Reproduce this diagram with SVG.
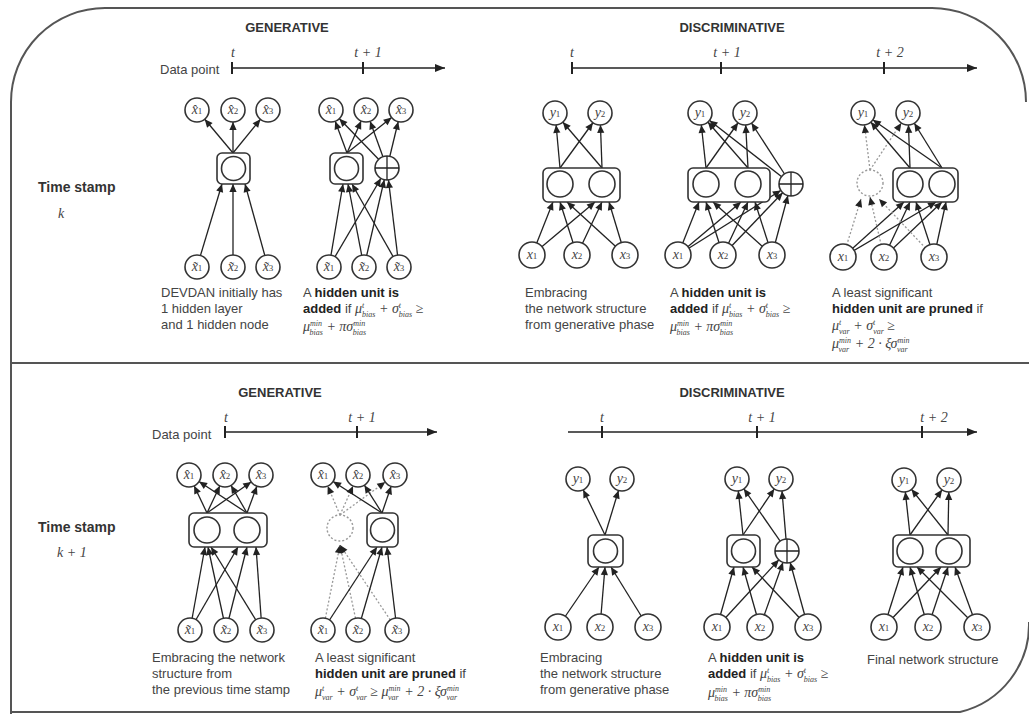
<svg xmlns="http://www.w3.org/2000/svg" width="1029" height="714" viewBox="0 0 1029 714">
<style>
.frame{fill:none;stroke:#555;stroke-width:2}
.e{stroke:#222;stroke-width:1.3;fill:none}
.d{stroke:#999;stroke-width:1.3;fill:none;stroke-dasharray:2 2}
.n{fill:#fff;stroke:#333;stroke-width:1.6}
.pn{fill:#fff;stroke:#999;stroke-width:1.4;stroke-dasharray:2 2}
.bx{fill:#fff;stroke:#333;stroke-width:1.6}
.tl{stroke:#222;stroke-width:1.5;fill:none}
.tk{stroke:#222;stroke-width:2}
.h{font-family:"Liberation Sans",Arial,sans-serif;font-weight:bold;font-size:13px;fill:#333}
.t{font-family:"Liberation Sans",Arial,sans-serif;font-size:13px;fill:#444}
.b{font-weight:bold;fill:#222}
.m{font-family:"Liberation Serif","Times New Roman",serif;font-style:italic;font-size:14px;fill:#444}
.s{font-family:"Liberation Serif","Times New Roman",serif;font-style:italic;font-size:8px}
.nl{font-family:"Liberation Serif","Times New Roman",serif;font-style:italic;font-size:14px;fill:#444;text-anchor:middle}
.nls{font-size:9px;font-style:normal}
</style>
<defs>
<marker id="a0" viewBox="0 0 10 10" refX="10" refY="5" markerWidth="8" markerHeight="8" markerUnits="userSpaceOnUse" orient="auto" overflow="visible"><path d="M0,0.5 L10,5 L0,9.5 z" fill="#222"/></marker>
<marker id="a12" viewBox="0 0 10 10" refX="25" refY="5" markerWidth="8" markerHeight="8" markerUnits="userSpaceOnUse" orient="auto" overflow="visible"><path d="M0,0.5 L10,5 L0,9.5 z" fill="#222"/></marker>
<marker id="at" viewBox="0 0 10 10" refX="10" refY="5" markerWidth="10" markerHeight="10" markerUnits="userSpaceOnUse" orient="auto"><path d="M0,1 L10,5 L0,9 z" fill="#222"/></marker>
</defs>

<g id="frame">
<path class="frame" d="M11,714 L11,102 A94,94 0 0 1 105,8 L932,8 A94,94 0 0 1 1026,102"/>
<path class="frame" d="M11,363 L1029,363"/>
<path class="frame" d="M1029,622 A90,90 0 0 1 960,712 L11,712"/>
</g>

<g id="labels">
<text class="h" x="38" y="192" style="font-size:14px">Time stamp</text>
<text class="m" x="58" y="218">k</text>
<text class="h" x="38" y="532" style="font-size:14px">Time stamp</text>
<text class="m" x="57" y="557">k + 1</text>
<text class="h" x="287" y="32" text-anchor="middle">GENERATIVE</text>
<text class="h" x="732" y="32" text-anchor="middle">DISCRIMINATIVE</text>
<text class="h" x="280" y="397" text-anchor="middle">GENERATIVE</text>
<text class="h" x="732" y="397" text-anchor="middle">DISCRIMINATIVE</text>
<text class="t" x="160" y="74">Data point</text>
<text class="t" x="152" y="439">Data point</text>
</g>

<g id="timelines">
<path class="tl" d="M232,68 L445,68" marker-end="url(#at)"/>
<path class="tk" d="M232,62 V74 M363,62 V74"/>
<text class="nl" x="233" y="57">t</text>
<text class="nl" x="368" y="57">t + 1</text>
<path class="tl" d="M572,68 L977,68" marker-end="url(#at)"/>
<path class="tk" d="M572,62 V74 M721,62 V74 M884,62 V74"/>
<text class="nl" x="572" y="57">t</text>
<text class="nl" x="727" y="57">t + 1</text>
<text class="nl" x="890" y="57">t + 2</text>
<path class="tl" d="M225,432 L437,432" marker-end="url(#at)"/>
<path class="tk" d="M225,426 V438 M357,426 V438"/>
<text class="nl" x="226" y="422">t</text>
<text class="nl" x="362" y="422">t + 1</text>
<path class="tl" d="M568,432 L977,432" marker-end="url(#at)"/>
<path class="tk" d="M602,426 V438 M757,426 V438 M922,426 V438"/>
<text class="nl" x="602" y="422">t</text>
<text class="nl" x="762" y="422">t + 1</text>
<text class="nl" x="934" y="422">t + 2</text>
</g>

<g id="connectors">
<path class="e" d="M233,153 L197,110" marker-end="url(#a12)"/>
<path class="e" d="M233,153 L233,110" marker-end="url(#a12)"/>
<path class="e" d="M233,153 L268,110" marker-end="url(#a12)"/>
<path class="e" d="M197,267 L222,184" marker-end="url(#a0)"/>
<path class="e" d="M233,267 L233,184" marker-end="url(#a0)"/>
<path class="e" d="M268,267 L245,184" marker-end="url(#a0)"/>
<path class="e" d="M347,153 L331,110" marker-end="url(#a12)"/>
<path class="e" d="M347,153 L366,110" marker-end="url(#a12)"/>
<path class="e" d="M347,153 L401,110" marker-end="url(#a12)"/>
<path class="e" d="M387,168 L331,110" marker-end="url(#a12)"/>
<path class="e" d="M387,168 L366,110" marker-end="url(#a12)"/>
<path class="e" d="M387,168 L401,110" marker-end="url(#a12)"/>
<path class="e" d="M329,267 L343,184" marker-end="url(#a0)"/>
<path class="e" d="M364,267 L348,184" marker-end="url(#a0)"/>
<path class="e" d="M399,267 L352,184" marker-end="url(#a0)"/>
<path class="e" d="M329,267 L387,168" marker-end="url(#a12)"/>
<path class="e" d="M364,267 L387,168" marker-end="url(#a12)"/>
<path class="e" d="M399,267 L387,168" marker-end="url(#a12)"/>
<path class="e" d="M560,168 L555,113" marker-end="url(#a12)"/>
<path class="e" d="M560,168 L600,113" marker-end="url(#a12)"/>
<path class="e" d="M602,168 L555,113" marker-end="url(#a12)"/>
<path class="e" d="M602,168 L600,113" marker-end="url(#a12)"/>
<path class="e" d="M532,255 L553,202" marker-end="url(#a0)"/>
<path class="e" d="M577,255 L560,202" marker-end="url(#a0)"/>
<path class="e" d="M625,255 L567,202" marker-end="url(#a0)"/>
<path class="e" d="M532,255 L595,202" marker-end="url(#a0)"/>
<path class="e" d="M577,255 L602,202" marker-end="url(#a0)"/>
<path class="e" d="M625,255 L609,202" marker-end="url(#a0)"/>
<path class="e" d="M706,168 L700,113" marker-end="url(#a12)"/>
<path class="e" d="M706,168 L745,113" marker-end="url(#a12)"/>
<path class="e" d="M748,168 L700,113" marker-end="url(#a12)"/>
<path class="e" d="M748,168 L745,113" marker-end="url(#a12)"/>
<path class="e" d="M791,184 L700,113" marker-end="url(#a12)"/>
<path class="e" d="M791,184 L745,113" marker-end="url(#a12)"/>
<path class="e" d="M678,255 L699,202" marker-end="url(#a0)"/>
<path class="e" d="M723,255 L706,202" marker-end="url(#a0)"/>
<path class="e" d="M772,255 L713,202" marker-end="url(#a0)"/>
<path class="e" d="M678,255 L741,202" marker-end="url(#a0)"/>
<path class="e" d="M723,255 L748,202" marker-end="url(#a0)"/>
<path class="e" d="M772,255 L755,202" marker-end="url(#a0)"/>
<path class="e" d="M678,255 L791,184" marker-end="url(#a12)"/>
<path class="e" d="M723,255 L791,184" marker-end="url(#a12)"/>
<path class="e" d="M772,255 L791,184" marker-end="url(#a12)"/>
<path class="d" d="M870,170 L863,113" marker-end="url(#a12)"/>
<path class="d" d="M870,170 L908,113" marker-end="url(#a12)"/>
<path class="e" d="M910,168 L863,113" marker-end="url(#a12)"/>
<path class="e" d="M910,168 L908,113" marker-end="url(#a12)"/>
<path class="e" d="M942,168 L863,113" marker-end="url(#a12)"/>
<path class="e" d="M942,168 L908,113" marker-end="url(#a12)"/>
<path class="e" d="M843,257 L904,202" marker-end="url(#a0)"/>
<path class="e" d="M884,257 L910,202" marker-end="url(#a0)"/>
<path class="e" d="M934,257 L916,202" marker-end="url(#a0)"/>
<path class="e" d="M843,257 L936,202" marker-end="url(#a0)"/>
<path class="e" d="M884,257 L942,202" marker-end="url(#a0)"/>
<path class="e" d="M934,257 L946,202" marker-end="url(#a0)"/>
<path class="d" d="M843,257 L861,199" marker-end="url(#a0)"/>
<path class="d" d="M884,257 L870,197" marker-end="url(#a0)"/>
<path class="d" d="M934,257 L879,199" marker-end="url(#a0)"/>
<path class="e" d="M207,513 L189,475" marker-end="url(#a12)"/>
<path class="e" d="M207,513 L225,475" marker-end="url(#a12)"/>
<path class="e" d="M207,513 L261,475" marker-end="url(#a12)"/>
<path class="e" d="M247,513 L189,475" marker-end="url(#a12)"/>
<path class="e" d="M247,513 L225,475" marker-end="url(#a12)"/>
<path class="e" d="M247,513 L261,475" marker-end="url(#a12)"/>
<path class="e" d="M190,630 L205,547" marker-end="url(#a0)"/>
<path class="e" d="M226,630 L208,547" marker-end="url(#a0)"/>
<path class="e" d="M262,630 L211,547" marker-end="url(#a0)"/>
<path class="e" d="M190,630 L238,547" marker-end="url(#a0)"/>
<path class="e" d="M226,630 L247,547" marker-end="url(#a0)"/>
<path class="e" d="M262,630 L256,547" marker-end="url(#a0)"/>
<path class="d" d="M340,515 L323,475" marker-end="url(#a12)"/>
<path class="d" d="M340,515 L358,475" marker-end="url(#a12)"/>
<path class="d" d="M340,515 L395,475" marker-end="url(#a12)"/>
<path class="e" d="M382,513 L323,475" marker-end="url(#a12)"/>
<path class="e" d="M382,513 L358,475" marker-end="url(#a12)"/>
<path class="e" d="M382,513 L395,475" marker-end="url(#a12)"/>
<path class="d" d="M323,630 L340,545" marker-end="url(#a0)"/>
<path class="d" d="M358,630 L340,545" marker-end="url(#a0)"/>
<path class="d" d="M397,630 L340,545" marker-end="url(#a0)"/>
<path class="e" d="M323,630 L377,547" marker-end="url(#a0)"/>
<path class="e" d="M358,630 L382,547" marker-end="url(#a0)"/>
<path class="e" d="M397,630 L387,547" marker-end="url(#a0)"/>
<path class="e" d="M605,535 L578,479" marker-end="url(#a12)"/>
<path class="e" d="M605,535 L622,479" marker-end="url(#a12)"/>
<path class="e" d="M558,627 L599,567" marker-end="url(#a0)"/>
<path class="e" d="M600,627 L605,567" marker-end="url(#a0)"/>
<path class="e" d="M648,627 L611,567" marker-end="url(#a0)"/>
<path class="e" d="M743,535 L737,479" marker-end="url(#a12)"/>
<path class="e" d="M743,535 L781,479" marker-end="url(#a12)"/>
<path class="e" d="M787,551 L737,479" marker-end="url(#a12)"/>
<path class="e" d="M787,551 L781,479" marker-end="url(#a12)"/>
<path class="e" d="M717,627 L734,567" marker-end="url(#a0)"/>
<path class="e" d="M760,627 L743,567" marker-end="url(#a0)"/>
<path class="e" d="M808,627 L752,567" marker-end="url(#a0)"/>
<path class="e" d="M717,627 L787,551" marker-end="url(#a12)"/>
<path class="e" d="M760,627 L787,551" marker-end="url(#a12)"/>
<path class="e" d="M808,627 L787,551" marker-end="url(#a12)"/>
<path class="e" d="M910,535 L904,480" marker-end="url(#a12)"/>
<path class="e" d="M910,535 L949,480" marker-end="url(#a12)"/>
<path class="e" d="M948,535 L904,480" marker-end="url(#a12)"/>
<path class="e" d="M948,535 L949,480" marker-end="url(#a12)"/>
<path class="e" d="M884,627 L903,567" marker-end="url(#a0)"/>
<path class="e" d="M928,627 L910,567" marker-end="url(#a0)"/>
<path class="e" d="M977,627 L917,567" marker-end="url(#a0)"/>
<path class="e" d="M884,627 L941,567" marker-end="url(#a0)"/>
<path class="e" d="M928,627 L948,567" marker-end="url(#a0)"/>
<path class="e" d="M977,627 L955,567" marker-end="url(#a0)"/>
</g>

<g id="tg1">
<circle class="n" cx="197" cy="110" r="12"/><text class="nl" x="197" y="114">x̂<tspan class="nls">1</tspan></text>
<circle class="n" cx="233" cy="110" r="12"/><text class="nl" x="233" y="114">x̂<tspan class="nls">2</tspan></text>
<circle class="n" cx="268" cy="110" r="12"/><text class="nl" x="268" y="114">x̂<tspan class="nls">3</tspan></text>
<rect class="bx" x="217" y="153" width="33" height="31" rx="5"/>
<circle class="n" cx="233.5" cy="168.5" r="12"/>
<circle class="n" cx="197" cy="267" r="12"/><text class="nl" x="197" y="271">x̃<tspan class="nls">1</tspan></text>
<circle class="n" cx="233" cy="267" r="12"/><text class="nl" x="233" y="271">x̃<tspan class="nls">2</tspan></text>
<circle class="n" cx="268" cy="267" r="12"/><text class="nl" x="268" y="271">x̃<tspan class="nls">3</tspan></text>
<text class="t" x="161" y="297">DEVDAN initially has</text>
<text class="t" x="161" y="313">1 hidden layer</text>
<text class="t" x="161" y="329">and 1 hidden node</text>
</g>

<g id="tg2">
<circle class="n" cx="331" cy="110" r="12"/><text class="nl" x="331" y="114">x̂<tspan class="nls">1</tspan></text>
<circle class="n" cx="366" cy="110" r="12"/><text class="nl" x="366" y="114">x̂<tspan class="nls">2</tspan></text>
<circle class="n" cx="401" cy="110" r="12"/><text class="nl" x="401" y="114">x̂<tspan class="nls">3</tspan></text>
<rect class="bx" x="330" y="153" width="33" height="31" rx="5"/>
<circle class="n" cx="346.5" cy="168.5" r="12"/>
<circle class="n" cx="387" cy="168" r="12"/>
<path class="e" d="M375,168 H399 M387,156 V180"/>
<circle class="n" cx="329" cy="267" r="12"/><text class="nl" x="329" y="271">x̃<tspan class="nls">1</tspan></text>
<circle class="n" cx="364" cy="267" r="12"/><text class="nl" x="364" y="271">x̃<tspan class="nls">2</tspan></text>
<circle class="n" cx="399" cy="267" r="12"/><text class="nl" x="399" y="271">x̃<tspan class="nls">3</tspan></text>
<text class="t" x="303" y="297">A <tspan class="b">hidden unit is</tspan></text>
<text class="t" x="303" y="313"><tspan class="b">added</tspan> if <tspan class="m">μ</tspan><tspan class="s" dy="-5.5">t</tspan><tspan class="s" dx="-2.2" dy="9.5">bias</tspan><tspan class="m" dy="-4"> + σ</tspan><tspan class="s" dy="-5.5">t</tspan><tspan class="s" dx="-2.2" dy="9.5">bias</tspan><tspan class="m" dy="-4" style="font-style:normal"> ≥</tspan></text>
<text class="t" x="303" y="331"><tspan class="m">μ</tspan><tspan class="s" dy="-5.5">min</tspan><tspan class="s" dx="-12.5" dy="9.5">bias</tspan><tspan class="m" dy="-4"> + πσ</tspan><tspan class="s" dy="-5.5">min</tspan><tspan class="s" dx="-12.5" dy="9.5">bias</tspan></text>
</g>

<g id="td1">
<circle class="n" cx="555" cy="113" r="12"/><text class="nl" x="555" y="117">y<tspan class="nls">1</tspan></text>
<circle class="n" cx="600" cy="113" r="12"/><text class="nl" x="600" y="117">y<tspan class="nls">2</tspan></text>
<rect class="bx" x="543" y="168" width="77" height="34" rx="5"/>
<circle class="n" cx="560" cy="184" r="13"/>
<circle class="n" cx="602" cy="184" r="13"/>
<circle class="n" cx="532" cy="255" r="13"/><text class="nl" x="532" y="259">x<tspan class="nls">1</tspan></text>
<circle class="n" cx="577" cy="255" r="13"/><text class="nl" x="577" y="259">x<tspan class="nls">2</tspan></text>
<circle class="n" cx="625" cy="255" r="13"/><text class="nl" x="625" y="259">x<tspan class="nls">3</tspan></text>
<text class="t" x="525" y="297">Embracing</text>
<text class="t" x="525" y="313">the network structure</text>
<text class="t" x="525" y="329">from generative phase</text>
</g>

<g id="td2">
<circle class="n" cx="700" cy="113" r="12"/><text class="nl" x="700" y="117">y<tspan class="nls">1</tspan></text>
<circle class="n" cx="745" cy="113" r="12"/><text class="nl" x="745" y="117">y<tspan class="nls">2</tspan></text>
<rect class="bx" x="688" y="168" width="82" height="34" rx="5"/>
<circle class="n" cx="706" cy="184" r="13"/>
<circle class="n" cx="748" cy="184" r="13"/>
<circle class="n" cx="791" cy="184" r="12"/>
<path class="e" d="M779,184 H803 M791,172 V196"/>
<circle class="n" cx="678" cy="255" r="13"/><text class="nl" x="678" y="259">x<tspan class="nls">1</tspan></text>
<circle class="n" cx="723" cy="255" r="13"/><text class="nl" x="723" y="259">x<tspan class="nls">2</tspan></text>
<circle class="n" cx="772" cy="255" r="13"/><text class="nl" x="772" y="259">x<tspan class="nls">3</tspan></text>
<text class="t" x="670" y="297">A <tspan class="b">hidden unit is</tspan></text>
<text class="t" x="670" y="313"><tspan class="b">added</tspan> if <tspan class="m">μ</tspan><tspan class="s" dy="-5.5">t</tspan><tspan class="s" dx="-2.2" dy="9.5">bias</tspan><tspan class="m" dy="-4"> + σ</tspan><tspan class="s" dy="-5.5">t</tspan><tspan class="s" dx="-2.2" dy="9.5">bias</tspan><tspan class="m" dy="-4" style="font-style:normal"> ≥</tspan></text>
<text class="t" x="670" y="331"><tspan class="m">μ</tspan><tspan class="s" dy="-5.5">min</tspan><tspan class="s" dx="-12.5" dy="9.5">bias</tspan><tspan class="m" dy="-4"> + πσ</tspan><tspan class="s" dy="-5.5">min</tspan><tspan class="s" dx="-12.5" dy="9.5">bias</tspan></text>
</g>

<g id="td3">
<circle class="n" cx="863" cy="113" r="12"/><text class="nl" x="863" y="117">y<tspan class="nls">1</tspan></text>
<circle class="n" cx="908" cy="113" r="12"/><text class="nl" x="908" y="117">y<tspan class="nls">2</tspan></text>
<circle class="pn" cx="870" cy="183" r="13"/>
<rect class="bx" x="893" y="168" width="65" height="34" rx="5"/>
<circle class="n" cx="910" cy="184" r="13"/>
<circle class="n" cx="942" cy="184" r="13"/>
<circle class="n" cx="843" cy="257" r="13"/><text class="nl" x="843" y="261">x<tspan class="nls">1</tspan></text>
<circle class="n" cx="884" cy="257" r="13"/><text class="nl" x="884" y="261">x<tspan class="nls">2</tspan></text>
<circle class="n" cx="934" cy="257" r="13"/><text class="nl" x="934" y="261">x<tspan class="nls">3</tspan></text>
<text class="t" x="832" y="297">A least significant</text>
<text class="t" x="832" y="313"><tspan class="b">hidden unit are pruned</tspan> if</text>
<text class="t" x="832" y="330"><tspan class="m">μ</tspan><tspan class="s" dy="-5.5">t</tspan><tspan class="s" dx="-2.2" dy="9.5">var</tspan><tspan class="m" dy="-4"> + σ</tspan><tspan class="s" dy="-5.5">t</tspan><tspan class="s" dx="-2.2" dy="9.5">var</tspan><tspan class="m" dy="-4" style="font-style:normal"> ≥</tspan></text>
<text class="t" x="832" y="348"><tspan class="m">μ</tspan><tspan class="s" dy="-5.5">min</tspan><tspan class="s" dx="-12.5" dy="9.5">var</tspan><tspan class="m" dy="-4" dx="2"> + 2 · ξσ</tspan><tspan class="s" dy="-5.5">min</tspan><tspan class="s" dx="-12.5" dy="9.5">var</tspan></text>
</g>

<g id="bg1">
<circle class="n" cx="189" cy="475" r="12"/><text class="nl" x="189" y="479">x̂<tspan class="nls">1</tspan></text>
<circle class="n" cx="225" cy="475" r="12"/><text class="nl" x="225" y="479">x̂<tspan class="nls">2</tspan></text>
<circle class="n" cx="261" cy="475" r="12"/><text class="nl" x="261" y="479">x̂<tspan class="nls">3</tspan></text>
<rect class="bx" x="189" y="513" width="78" height="34" rx="5"/>
<circle class="n" cx="207" cy="530" r="13"/>
<circle class="n" cx="247" cy="530" r="13"/>
<circle class="n" cx="190" cy="630" r="12"/><text class="nl" x="190" y="634">x̃<tspan class="nls">1</tspan></text>
<circle class="n" cx="226" cy="630" r="12"/><text class="nl" x="226" y="634">x̃<tspan class="nls">2</tspan></text>
<circle class="n" cx="262" cy="630" r="12"/><text class="nl" x="262" y="634">x̃<tspan class="nls">3</tspan></text>
<text class="t" x="152" y="662">Embracing the network</text>
<text class="t" x="152" y="678">structure from</text>
<text class="t" x="152" y="694">the previous time stamp</text>
</g>

<g id="bg2">
<circle class="n" cx="323" cy="475" r="12"/><text class="nl" x="323" y="479">x̂<tspan class="nls">1</tspan></text>
<circle class="n" cx="358" cy="475" r="12"/><text class="nl" x="358" y="479">x̂<tspan class="nls">2</tspan></text>
<circle class="n" cx="395" cy="475" r="12"/><text class="nl" x="395" y="479">x̂<tspan class="nls">3</tspan></text>
<circle class="pn" cx="340" cy="528" r="13"/>
<rect class="bx" x="367" y="513" width="31" height="34" rx="5"/>
<circle class="n" cx="382.5" cy="530" r="12"/>
<circle class="n" cx="323" cy="630" r="12"/><text class="nl" x="323" y="634">x̃<tspan class="nls">1</tspan></text>
<circle class="n" cx="358" cy="630" r="12"/><text class="nl" x="358" y="634">x̃<tspan class="nls">2</tspan></text>
<circle class="n" cx="397" cy="630" r="12"/><text class="nl" x="397" y="634">x̃<tspan class="nls">3</tspan></text>
<text class="t" x="315" y="662">A least significant</text>
<text class="t" x="315" y="678"><tspan class="b">hidden unit are pruned</tspan> if</text>
<text class="t" x="315" y="696"><tspan class="m">μ</tspan><tspan class="s" dy="-5.5">t</tspan><tspan class="s" dx="-2.2" dy="9.5">var</tspan><tspan class="m" dy="-4"> + σ</tspan><tspan class="s" dy="-5.5">t</tspan><tspan class="s" dx="-2.2" dy="9.5">var</tspan><tspan class="m" dy="-4" style="font-style:normal"> ≥ </tspan><tspan class="m">μ</tspan><tspan class="s" dy="-5.5">min</tspan><tspan class="s" dx="-12.5" dy="9.5">var</tspan><tspan class="m" dy="-4" dx="2"> + 2 · ξσ</tspan><tspan class="s" dy="-5.5">min</tspan><tspan class="s" dx="-12.5" dy="9.5">var</tspan></text>
</g>

<g id="bd1">
<circle class="n" cx="578" cy="479" r="12"/><text class="nl" x="578" y="483">y<tspan class="nls">1</tspan></text>
<circle class="n" cx="622" cy="479" r="12"/><text class="nl" x="622" y="483">y<tspan class="nls">2</tspan></text>
<rect class="bx" x="588" y="535" width="35" height="32" rx="5"/>
<circle class="n" cx="605.5" cy="551" r="12"/>
<circle class="n" cx="558" cy="627" r="13"/><text class="nl" x="558" y="631">x<tspan class="nls">1</tspan></text>
<circle class="n" cx="600" cy="627" r="13"/><text class="nl" x="600" y="631">x<tspan class="nls">2</tspan></text>
<circle class="n" cx="648" cy="627" r="13"/><text class="nl" x="648" y="631">x<tspan class="nls">3</tspan></text>
<text class="t" x="540" y="662">Embracing</text>
<text class="t" x="540" y="678">the network structure</text>
<text class="t" x="540" y="694">from generative phase</text>
</g>

<g id="bd2">
<circle class="n" cx="737" cy="479" r="12"/><text class="nl" x="737" y="483">y<tspan class="nls">1</tspan></text>
<circle class="n" cx="781" cy="479" r="12"/><text class="nl" x="781" y="483">y<tspan class="nls">2</tspan></text>
<rect class="bx" x="727" y="535" width="33" height="32" rx="5"/>
<circle class="n" cx="743.5" cy="551" r="12"/>
<circle class="n" cx="787" cy="551" r="12"/>
<path class="e" d="M775,551 H799 M787,539 V563"/>
<circle class="n" cx="717" cy="627" r="13"/><text class="nl" x="717" y="631">x<tspan class="nls">1</tspan></text>
<circle class="n" cx="760" cy="627" r="13"/><text class="nl" x="760" y="631">x<tspan class="nls">2</tspan></text>
<circle class="n" cx="808" cy="627" r="13"/><text class="nl" x="808" y="631">x<tspan class="nls">3</tspan></text>
<text class="t" x="708" y="662">A <tspan class="b">hidden unit is</tspan></text>
<text class="t" x="708" y="678"><tspan class="b">added</tspan> if <tspan class="m">μ</tspan><tspan class="s" dy="-5.5">t</tspan><tspan class="s" dx="-2.2" dy="9.5">bias</tspan><tspan class="m" dy="-4"> + σ</tspan><tspan class="s" dy="-5.5">t</tspan><tspan class="s" dx="-2.2" dy="9.5">bias</tspan><tspan class="m" dy="-4" style="font-style:normal"> ≥</tspan></text>
<text class="t" x="708" y="697"><tspan class="m">μ</tspan><tspan class="s" dy="-5.5">min</tspan><tspan class="s" dx="-12.5" dy="9.5">bias</tspan><tspan class="m" dy="-4"> + πσ</tspan><tspan class="s" dy="-5.5">min</tspan><tspan class="s" dx="-12.5" dy="9.5">bias</tspan></text>
</g>

<g id="bd3">
<circle class="n" cx="904" cy="480" r="12"/><text class="nl" x="904" y="484">y<tspan class="nls">1</tspan></text>
<circle class="n" cx="949" cy="480" r="12"/><text class="nl" x="949" y="484">y<tspan class="nls">2</tspan></text>
<rect class="bx" x="893" y="535" width="77" height="32" rx="5"/>
<circle class="n" cx="910" cy="551" r="13"/>
<circle class="n" cx="949" cy="551" r="13"/>
<circle class="n" cx="884" cy="627" r="13"/><text class="nl" x="884" y="631">x<tspan class="nls">1</tspan></text>
<circle class="n" cx="928" cy="627" r="13"/><text class="nl" x="928" y="631">x<tspan class="nls">2</tspan></text>
<circle class="n" cx="977" cy="627" r="13"/><text class="nl" x="977" y="631">x<tspan class="nls">3</tspan></text>
<text class="t" x="867" y="664">Final network structure</text>
</g>
</svg>
